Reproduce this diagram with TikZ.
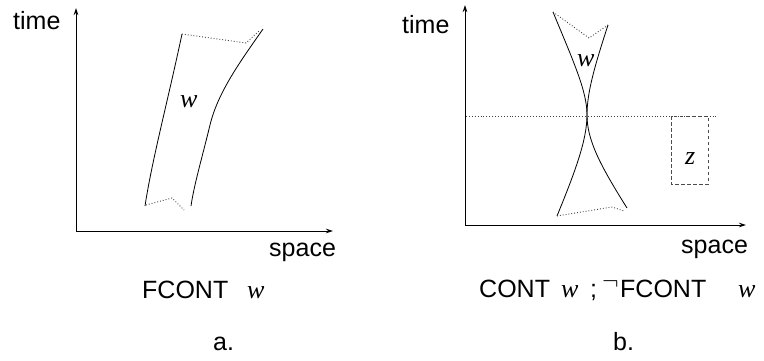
\documentclass[tikz,border=0pt]{standalone}
\usepackage{fontspec}
\setmainfont{Liberation Sans}
\newfontfamily\tms{Liberation Serif}
\usetikzlibrary{arrows.meta}
\begin{document}
\begin{tikzpicture}[x=1pt,y=-1pt,
  lbl/.style={inner sep=0pt, anchor=base west, font=\fontsize{25}{30}\selectfont},
  var/.style={inner sep=0pt, anchor=base west, font=\fontsize{26}{30}\selectfont\tms\itshape},
  axis/.style={line width=0.9pt, {Stealth[length=7pt,width=4.5pt]}-{Stealth[length=7pt,width=4.5pt]}},
  edge/.style={line width=0.8pt},
  dots/.style={line width=0.9pt, black!75, dash pattern=on 0.9pt off 2pt},
  box/.style={line width=0.9pt, black!70, dash pattern=on 3.5pt off 2.5pt}]
\useasboundingbox (0,0) rectangle (764,360);
% ---------- panel a ----------
\coordinate (a-top) at (76,8);
\coordinate (a-o) at (76,231);
\coordinate (a-right) at (333,231);
\draw[axis] (a-top) -- (a-o) -- (a-right);
\node[lbl] (a-time) at (13,29) {time};
\node[lbl] (a-space) at (269,256) {space};
\coordinate (aL1) at (182,34);
\coordinate (aL2) at (145,206);
\coordinate (aR1) at (263,29);
\coordinate (aR2) at (191,206);
\draw[edge] (aL1) .. controls (168,100) and (152,160) .. (aL2);
\draw[edge] (aR1) .. controls (240,62) and (218,92) .. (210,125)
                  .. controls (202,158) and (194,185) .. (aR2);
\draw[dots] (aL1) -- (246,43) -- (260,30);
\draw[dots] (146,205) -- (172,198) -- (184,210);
\node[var] (a-w) at (180,107) {w};
\node[lbl] (a-fcont) at (142,298) {FCONT};
\node[var] (a-fw) at (247,298) {w};
\node[lbl] (a-lab) at (213,350) {a.};
% ---------- panel b ----------
\coordinate (b-top) at (465,5);
\coordinate (b-o) at (465,225);
\coordinate (b-right) at (746,225);
\draw[axis] (b-top) -- (b-o) -- (b-right);
\node[lbl] (b-time) at (402,33) {time};
\node[lbl] (b-space) at (681,253) {space};
\coordinate (bL1) at (553,12);
\coordinate (bL2) at (557,216);
\coordinate (bR1) at (608,25);
\coordinate (bR2) at (627,208);
\coordinate (bX) at (587,115);
\draw[edge] (bL1) .. controls (575,65) and (587,92) .. (bX)
                  .. controls (587,140) and (575,172) .. (bL2);
\draw[edge] (bR1) .. controls (595,65) and (587,92) .. (bX)
                  .. controls (587,140) and (600,165) .. (bR2);
\draw[dots] (bL1) -- (589,38) -- (bR1);
\draw[dots] (bL2) -- (612,207) -- (624,211);
\node[var] (b-w) at (577,66) {w};
\coordinate (h1) at (466,116);
\coordinate (h2) at (717,116);
\draw[dots] (h1) -- (h2);
\coordinate (zb1) at (671,116);
\coordinate (zb2) at (708,184);
\draw[box] (zb1) rectangle (zb2);
\node[var] (z) at (685,164) {z};
\node[lbl] (b-cont) at (479,297) {CONT};
\node[var] (b-w1) at (561,297) {w};
\node[lbl] (b-semi) at (590,297) {;};
\node[lbl] (b-neg) at (602,297) {\raisebox{8pt}{$\neg$}};
\node[lbl] (b-fcont) at (620,297) {FCONT};
\node[var] (b-w2) at (738,297) {w};
\node[lbl] (b-lab) at (613,350) {b.};
\end{tikzpicture}
\end{document}
